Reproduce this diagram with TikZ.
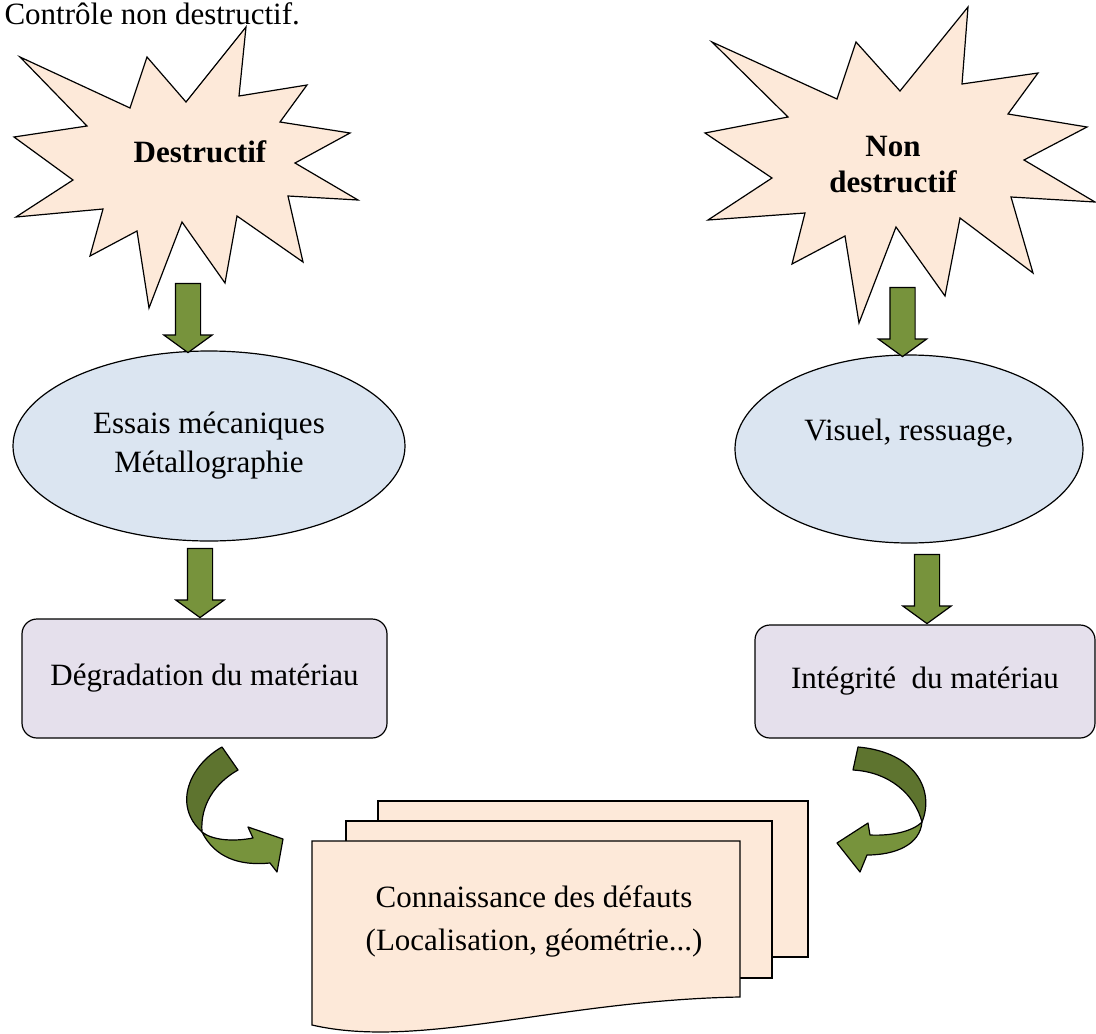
\documentclass[tikz,border=0pt]{standalone}
\usepackage{fontspec}
\setmainfont{Liberation Serif}
\usetikzlibrary{shapes.geometric,shapes.arrows}
\definecolor{burstfill}{RGB}{253,233,217}
\definecolor{ellfill}{RGB}{219,229,241}
\definecolor{boxfill}{RGB}{229,224,236}
\definecolor{arrowgreen}{RGB}{119,147,60}
\definecolor{darkgreen}{RGB}{94,116,47}
\tikzset{
  txt/.style={font=\fontsize{31}{39}\selectfont, align=center},
  burst/.style={draw, fill=burstfill, line width=1.2pt, line join=miter},
  ellbox/.style={txt, ellipse, draw, fill=ellfill, line width=1.2pt, inner sep=0pt},
  matbox/.style={txt, draw, fill=boxfill, rounded corners=15pt, line width=1.2pt, inner sep=0pt},
  downarrow/.style={single arrow, draw, fill=arrowgreen, line width=1.2pt, rotate=-90,
    inner xsep=0pt, inner ysep=12pt, minimum height=69pt,
    single arrow head extend=11.5pt, single arrow tip angle=108},
  docpage/.style={draw, fill=burstfill, line width=1.2pt},
  curvearrow/.style={draw, line width=1.2pt, line join=round},
}
\begin{document}
\begin{tikzpicture}[x=1pt,y=-1pt]
			\useasboundingbox (0,0) rectangle (1096,1034);
			\clip (0,0) rectangle (1096,1034);
			\node[txt, anchor=base west] (titre) at (1,24) {Contrôle non destructif.};
			% bursts
			\draw[burst] (20,57) -- (130,108) -- (147,57) -- (186,102) -- (246,27) -- (239,96) -- (307,85) -- (280,122) -- (350,133) -- (295,163) -- (358,200) -- (288,196) -- (303,262) -- (237,216) -- (225,283) -- (182,222) -- (149,308) -- (137,231) -- (90,256) -- (103,209) -- (16,217) -- (73,180) -- (14,137) -- (87,126) -- cycle;
			\draw[burst] (712,42) -- (837,99) -- (856,42) -- (900,91) -- (968,7) -- (962,84) -- (1038,73) -- (1008,114) -- (1087,127) -- (1024,160) -- (1095,202) -- (1011,197) -- (1033,273) -- (960,218) -- (945,296) -- (896,227) -- (859,323) -- (845,236) -- (792,264) -- (805,213) -- (708,220) -- (772,178) -- (705,133) -- (788,117) -- cycle;
			\node[txt, font=\fontsize{31}{39}\selectfont\bfseries] (destr) at (200,152) {Destructif};
			\node[txt, font=\fontsize{31}{36}\selectfont\bfseries] (nondestr) at (893,165) {Non\\destructif};
			% methods
			\node[ellbox, minimum width=392pt, minimum height=190pt] (essais) at (209,446) {Essais mécaniques\\Métallographie};
			\node[ellbox, minimum width=348pt, minimum height=188pt] (visuel) at (909,449) {Visuel, ressuage,\\~};
			\node[matbox, minimum width=365pt, minimum height=119pt] (degrad) at (204.5,678.5) {Dégradation du matériau};
			\node[matbox, minimum width=340pt, minimum height=113pt] (integr) at (925,681.5) {Intégrité~ du matériau};
			% block arrows
			\node[downarrow] (flecheA) at (188,313.5) {};
			\node[downarrow] (flecheB) at (902.5,317.5) {};
			\node[downarrow] (flecheC) at (200,578.5) {};
			\node[downarrow] (flecheD) at (927,584.5) {};
			% curved arrows
			\draw[curvearrow, fill=darkgreen] (222,747) .. controls (190,765) and (172,805) .. (202,832) .. controls (200,805) and (215,783) .. (238,770) -- cycle;
			\draw[curvearrow, fill=arrowgreen] (202,832) .. controls (215,858) and (240,866) .. (270,863) -- (277,872) -- (283,839) -- (248,827) -- (253,838) .. controls (232,842) and (212,840) .. (202,832) -- cycle;
			\draw[curvearrow, fill=darkgreen] (858,747) .. controls (915,752) and (935,790) .. (922,822) .. controls (915,795) and (890,772) .. (853,770) -- cycle;
			\draw[curvearrow, fill=arrowgreen] (922,822) .. controls (912,832) and (890,836) .. (870,835) -- (868,823) -- (837,843) -- (860,872) -- (867,855) .. controls (895,855) and (920,845) .. (922,822) -- cycle;
			% documents
			\draw[docpage] (378,801) rectangle (808,957);
			\draw[docpage] (346,821) rectangle (772,978);
			\draw[docpage] (312,841) -- (740,841) -- (740,997) .. controls (560,1000) and (420,1050) .. (312,1025) -- cycle;
			\node[txt, font=\fontsize{31}{43}\selectfont] (connais) at (534,921.5) {Connaissance des défauts\\(Localisation, géométrie...)};
		\end{tikzpicture}
\end{document}
